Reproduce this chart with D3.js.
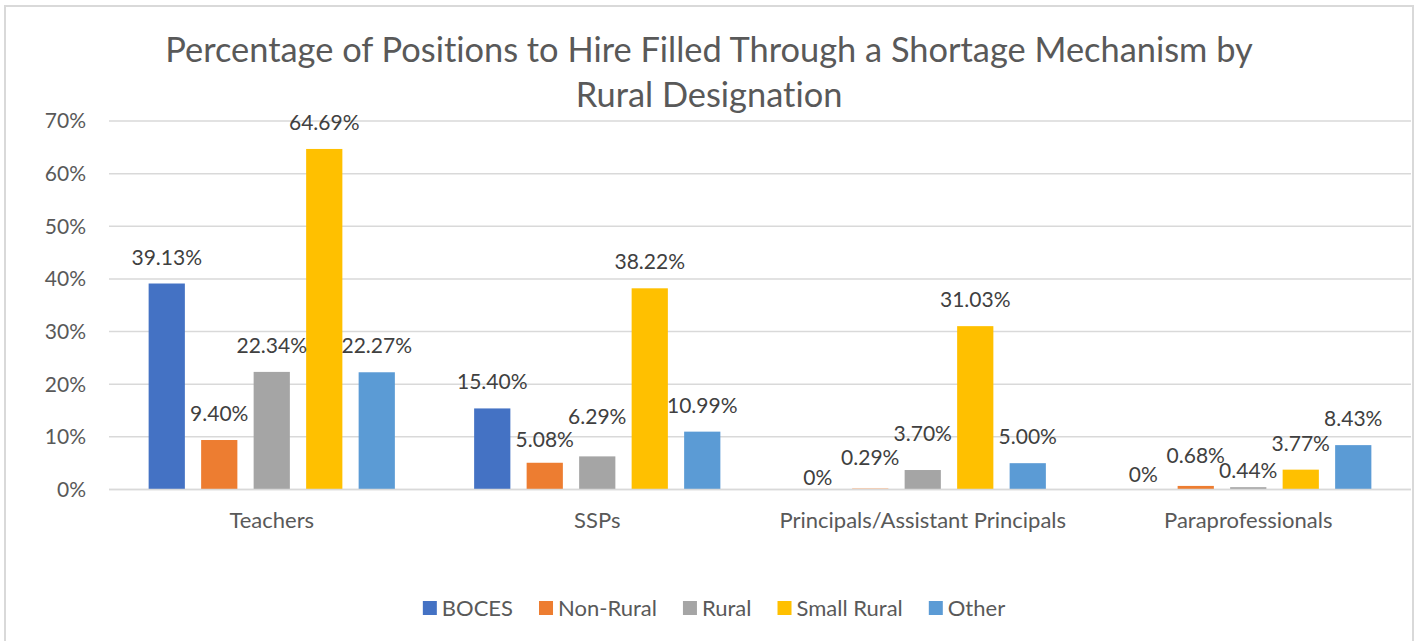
<!DOCTYPE html>
<html>
<head>
<meta charset="utf-8">
<script src="https://cdn.jsdelivr.net/npm/d3@7"></script>
<style>
  body { margin: 0; background: #fff; }
  text { font-family: Lato, "Open Sans", sans-serif; font-variant-ligatures: none; }
</style>
</head>
<body>
<svg id="chart" width="1418" height="641"></svg>
<script>
const categories = ['Teachers', 'SSPs', 'Principals/Assistant Principals', 'Paraprofessionals'];
const series = ['BOCES', 'Non-Rural', 'Rural', 'Small Rural', 'Other'];

// one array per series, in category order (percent)
const boces = [39.13, 15.40, 0, 0];
const nonRural = [9.40, 5.08, 0.29, 0.68];
const rural = [22.34, 6.29, 3.70, 0.44];
const smallRural = [64.69, 38.22, 31.03, 3.77];
const other = [22.27, 10.99, 5.00, 8.43];

const yTicks = [0, 10, 20, 30, 40, 50, 60, 70];

const colors = ['#4472C4', '#ED7D31', '#A5A5A5', '#FFC000', '#5B9BD5'];
// the one faded point in the original
const pointColor = { 'Principals/Assistant Principals|Non-Rural': '#F8CBAD' };
// label nudges (px) that were hand-moved in the original
const labelNudge = {
  'SSPs|Non-Rural': 3, 'SSPs|Rural': -13,
  'Principals/Assistant Principals|BOCES': 14,
  'Principals/Assistant Principals|Non-Rural': -4,
  'Principals/Assistant Principals|Rural': -10,
  'Paraprofessionals|BOCES': 11,
  'Paraprofessionals|Non-Rural': -4,
  'Paraprofessionals|Rural': 10
};

const values = [boces, nonRural, rural, smallRural, other];
const fmt = v => v === 0 ? '0%' : v.toFixed(2) + '%';

const svg = d3.select('#chart');
const plotLeft = 109, plotRight = 1411, plotTop = 121, plotBottom = 489.5;

// chart frame
svg.append('rect')
  .attr('x', 5).attr('y', 6).attr('width', 1408).attr('height', 660)
  .attr('fill', '#fff').attr('stroke', '#d9d9d9').attr('stroke-width', 2);

const x0 = d3.scaleBand().domain(categories).range([plotLeft, plotRight]);
const x1 = d3.scaleBand().domain(series).range([0, x0.bandwidth()])
  .paddingInner(0.31).paddingOuter(0.755);
const y = d3.scaleLinear().domain([0, 70]).range([plotBottom, plotTop]);

// gridlines
svg.append('g').selectAll('line')
  .data(yTicks)
  .enter()
  .append('line')
  .attr('x1', plotLeft).attr('x2', plotRight)
  .attr('y1', d => y(d)).attr('y2', d => y(d))
  .attr('stroke', '#d9d9d9').attr('stroke-width', 1.5);

// y tick labels
svg.append('g').selectAll('text')
  .data(yTicks)
  .enter()
  .append('text')
  .attr('x', 86).attr('y', d => y(d))
  .attr('dy', '0.35em')
  .attr('text-anchor', 'end')
  .attr('font-size', 21)
  .attr('fill', '#595959')
  .text(d => d + '%');

// title, sized so the first line spans the same width as the original
const title = svg.append('text')
  .attr('x', 709).attr('y', 62)
  .attr('text-anchor', 'middle')
  .attr('font-size', 30)
  .attr('fill', '#595959');
title.selectAll('tspan')
  .data(['Percentage of Positions to Hire Filled Through a Shortage Mechanism by', 'Rural Designation'])
  .enter()
  .append('tspan')
  .attr('x', 709)
  .attr('dy', (d, i) => i ? 44.5 : 0)
  .text(d => d);
const w1 = title.select('tspan').node().getComputedTextLength();
title.attr('font-size', 30 * 1088 / w1);

const points = [];
categories.forEach((c, ci) => {
  series.forEach((s, si) => {
    points.push({ cat: c, ser: s, si: si, v: values[si][ci] });
  });
});

svg.append('g').selectAll('rect')
  .data(points.filter(d => d.v > 0))
  .enter()
  .append('rect')
  .attr('x', d => x0(d.cat) + x1(d.ser))
  .attr('y', d => y(d.v))
  .attr('width', x1.bandwidth())
  .attr('height', d => y(0) - y(d.v))
  .attr('fill', d => pointColor[d.cat + '|' + d.ser] || colors[d.si]);

// redraw the baseline over the bars
svg.append('line')
  .attr('x1', plotLeft).attr('x2', plotRight)
  .attr('y1', y(0)).attr('y2', y(0))
  .attr('stroke', '#d9d9d9').attr('stroke-width', 1.5);

// data labels
svg.append('g').selectAll('text')
  .data(points)
  .enter()
  .append('text')
  .attr('x', d => x0(d.cat) + x1(d.ser) + x1.bandwidth() / 2)
  .attr('y', d => y(d.v) - 19 + (labelNudge[d.cat + '|' + d.ser] || 0))
  .attr('text-anchor', 'middle')
  .attr('font-size', 21)
  .attr('fill', '#404040')
  .text(d => fmt(d.v));

// category labels
svg.append('g').selectAll('text')
  .data(categories)
  .enter()
  .append('text')
  .attr('x', d => x0(d) + x0.bandwidth() / 2)
  .attr('y', 528)
  .attr('text-anchor', 'middle')
  .attr('font-size', 22)
  .attr('fill', '#595959')
  .text(d => d);

// legend, centred under the plot
const legend = svg.append('g');
const items = legend.selectAll('g')
  .data(series)
  .enter()
  .append('g');
items.append('rect')
  .attr('width', 14).attr('height', 14)
  .attr('y', -7)
  .attr('fill', (d, i) => colors[i]);
items.append('text')
  .attr('x', 19).attr('dy', '0.35em')
  .attr('font-size', 22)
  .attr('fill', '#595959')
  .text(d => d);

let offset = 0;
items.each(function () {
  const w = this.querySelector('text').getComputedTextLength();
  d3.select(this).attr('transform', 'translate(' + offset + ',0)');
  offset += 19 + w + 26;
});
const total = offset - 26;
legend.attr('transform', 'translate(' + (714 - total / 2) + ',608)');
</script>
</body>
</html>
